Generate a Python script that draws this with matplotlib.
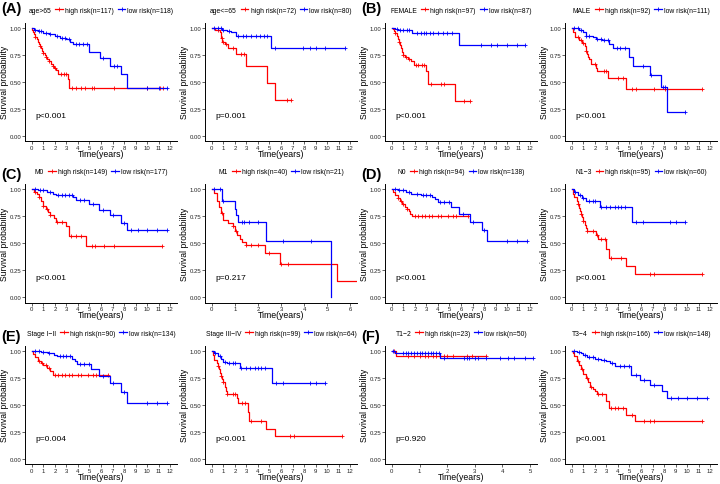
import numpy as np
import matplotlib.pyplot as plt
from matplotlib.lines import Line2D

plt.rcParams['font.family'] = ['Liberation Sans', 'DejaVu Sans']

# ---- data: event times / survival after event / censor times ----
a1_hi_t = [0.05, 0.1, 0.2, 0.3, 0.4, 0.5, 0.6, 0.7, 0.8, 0.9, 1.0, 1.1, 1.2, 1.35, 1.5, 1.65, 1.8, 1.95, 2.1, 2.3, 3.1, 3.25]
a1_hi_s = [0.98, 0.96, 0.94, 0.92, 0.90, 0.87, 0.85, 0.83, 0.81, 0.79, 0.77, 0.75, 0.73, 0.71, 0.69, 0.67, 0.65, 0.63, 0.61, 0.57, 0.53, 0.44]
a1_hi_c = [0.3, 0.7, 1.0, 1.2, 1.5, 1.8, 2.0, 2.5, 2.8, 3.0, 3.5, 3.8, 4.3, 4.6, 5.2, 5.4, 7.1, 10.0, 11.1, 11.4]
a1_lo_t = [0.15, 0.5, 1.0, 1.5, 2.0, 2.4, 3.0, 3.3, 3.6, 5.0, 5.9, 6.75, 7.7, 8.3]
a1_lo_s = [0.98, 0.97, 0.95, 0.94, 0.93, 0.91, 0.90, 0.87, 0.85, 0.78, 0.72, 0.65, 0.57, 0.44]
a1_lo_c = [0.3, 0.6, 0.8, 1.2, 1.6, 2.2, 2.6, 2.9, 3.2, 3.8, 4.1, 4.4, 4.8, 6.2, 7.1, 7.4, 10.0, 11.0, 11.7]

a2_hi_t = [0.3, 0.7, 0.8, 0.9, 1.1, 1.4, 2.05, 3.0, 4.75, 5.5]
a2_hi_s = [0.98, 0.96, 0.91, 0.87, 0.85, 0.81, 0.76, 0.65, 0.49, 0.33]
a2_hi_c = [0.5, 0.85, 1.0, 1.2, 1.8, 2.5, 2.8, 6.5, 6.9]
a2_lo_t = [0.9, 1.3, 1.7, 2.1, 5.15]
a2_lo_s = [0.98, 0.97, 0.96, 0.93, 0.81]
a2_lo_c = [0.2, 0.5, 0.8, 1.0, 1.5, 2.3, 2.7, 3.0, 3.4, 3.8, 4.2, 4.5, 4.8, 5.5, 7.9, 8.5, 9.0, 9.8, 11.6]

b1_hi_t = [0.1, 0.2, 0.3, 0.4, 0.5, 0.6, 0.7, 0.8, 0.9, 1.0, 1.1, 1.4, 1.7, 1.9, 3.0, 3.15, 5.5]
b1_hi_s = [0.99, 0.97, 0.95, 0.93, 0.90, 0.87, 0.84, 0.81, 0.78, 0.75, 0.73, 0.71, 0.69, 0.66, 0.60, 0.48, 0.32]
b1_hi_c = [0.3, 0.6, 1.0, 1.2, 1.5, 2.1, 2.3, 2.6, 2.8, 3.4, 4.3, 4.5, 6.3, 6.8]
b1_lo_t = [0.3, 0.5, 1.75, 5.8]
b1_lo_s = [0.99, 0.98, 0.95, 0.84]
b1_lo_c = [0.4, 0.7, 1.0, 1.3, 1.5, 2.2, 2.5, 2.8, 3.0, 3.3, 3.6, 4.0, 4.4, 4.8, 5.2, 7.7, 8.6, 9.1, 10.0, 10.9, 11.6]

b2_hi_t = [0.1, 0.3, 0.6, 0.9, 1.1, 1.2, 1.3, 1.4, 1.5, 1.7, 2.1, 2.2, 3.1, 4.7]
b2_hi_s = [0.96, 0.92, 0.89, 0.86, 0.83, 0.79, 0.76, 0.73, 0.71, 0.67, 0.63, 0.60, 0.54, 0.43]
b2_hi_c = [0.5, 0.8, 1.0, 1.2, 2.0, 2.8, 3.0, 4.0, 4.4, 5.2, 5.6, 7.1, 8.1, 11.3]
b2_lo_t = [0.6, 1.0, 1.2, 1.8, 2.1, 2.6, 3.2, 3.6, 5.0, 5.3, 6.75, 7.7, 8.3]
b2_lo_s = [0.98, 0.96, 0.93, 0.92, 0.90, 0.89, 0.85, 0.81, 0.73, 0.65, 0.56, 0.45, 0.22]
b2_lo_c = [0.2, 0.5, 0.8, 1.2, 1.5, 2.2, 2.5, 2.8, 3.1, 3.9, 4.2, 4.6, 6.2, 6.9, 7.9, 8.1, 9.8]

c1_hi_t = [0.2, 0.4, 0.6, 0.8, 1.0, 1.2, 1.4, 1.6, 1.9, 2.1, 3.0, 3.2, 4.7]
c1_hi_s = [0.98, 0.96, 0.93, 0.89, 0.85, 0.82, 0.79, 0.76, 0.73, 0.70, 0.66, 0.57, 0.47]
c1_hi_c = [0.3, 0.6, 1.0, 1.3, 1.6, 2.2, 2.6, 3.4, 3.8, 4.3, 5.2, 5.5, 6.3, 7.1, 11.3]
c1_lo_t = [0.5, 1.3, 1.8, 2.1, 3.6, 3.8, 5.0, 5.8, 6.8, 7.7, 8.3]
c1_lo_s = [0.99, 0.98, 0.96, 0.95, 0.93, 0.90, 0.86, 0.81, 0.76, 0.69, 0.62]
c1_lo_c = [0.3, 0.7, 1.0, 1.6, 2.3, 2.6, 2.9, 3.2, 3.5, 4.2, 4.5, 5.3, 6.2, 7.0, 8.0, 8.6, 9.2, 10.0, 10.9, 11.7]

c2_hi_t = [0.1, 0.2, 0.3, 0.4, 0.5, 0.7, 0.9, 1.0, 1.1, 1.2, 1.3, 1.5, 2.3, 2.95, 5.45]
c2_hi_s = [0.97, 0.89, 0.84, 0.78, 0.72, 0.69, 0.66, 0.61, 0.58, 0.54, 0.51, 0.48, 0.41, 0.31, 0.15]
c2_hi_c = [0.45, 0.9, 1.05, 1.5, 1.7, 2.0, 2.5, 3.0, 3.3, 6.6]
c2_lo_t = [0.45, 1.0, 1.05, 1.15, 2.35, 5.15]
c2_lo_s = [0.89, 0.82, 0.76, 0.70, 0.52, 0.0]
c2_lo_c = [0.1, 0.35, 0.5, 1.3, 1.4, 1.6, 2.0, 3.1, 4.3]

d1_hi_t = [0.1, 0.3, 0.5, 0.7, 0.9, 1.1, 1.3, 1.45, 1.6, 1.75]
d1_hi_s = [0.98, 0.95, 0.92, 0.89, 0.86, 0.84, 0.82, 0.80, 0.77, 0.75]
d1_hi_c = [0.5, 0.8, 1.0, 1.3, 2.0, 2.3, 2.6, 2.9, 3.2, 3.5, 4.0, 4.3, 4.9, 5.3, 5.6, 6.6]
d1_lo_t = [0.5, 1.2, 1.7, 2.5, 3.5, 3.7, 4.0, 5.1, 5.8, 6.8, 7.8, 8.3]
d1_lo_s = [0.99, 0.98, 0.96, 0.95, 0.93, 0.91, 0.88, 0.84, 0.77, 0.70, 0.62, 0.52]
d1_lo_c = [0.3, 0.6, 1.0, 1.5, 2.2, 2.7, 3.0, 3.3, 4.2, 4.5, 5.0, 6.2, 7.0, 8.0, 10.0, 10.9, 11.7]

d2_hi_t = [0.1, 0.2, 0.4, 0.5, 0.6, 0.7, 0.8, 0.9, 1.0, 1.1, 1.2, 1.3, 2.1, 2.3, 3.0, 3.2, 4.7, 5.5]
d2_hi_s = [0.96, 0.93, 0.89, 0.86, 0.83, 0.80, 0.77, 0.74, 0.71, 0.67, 0.64, 0.61, 0.58, 0.54, 0.45, 0.36, 0.29, 0.21]
d2_hi_c = [0.5, 0.8, 1.0, 1.3, 1.8, 2.2, 2.5, 2.9, 3.4, 4.3, 6.8, 7.1, 11.3]
d2_lo_t = [0.2, 0.5, 0.9, 1.2, 2.4, 5.2]
d2_lo_s = [0.98, 0.95, 0.92, 0.89, 0.84, 0.70]
d2_lo_c = [0.3, 0.7, 1.0, 1.5, 1.8, 2.0, 2.5, 3.0, 3.3, 3.7, 4.0, 4.3, 4.6, 5.6, 6.2, 8.5, 9.0, 9.8]

e1_hi_t = [0.1, 0.3, 0.5, 0.8, 1.0, 1.3, 1.6, 1.8]
e1_hi_s = [0.97, 0.94, 0.91, 0.89, 0.87, 0.84, 0.81, 0.78]
e1_hi_c = [0.6, 0.9, 1.2, 1.5, 2.0, 2.3, 2.6, 2.9, 3.2, 3.5, 4.0, 4.3, 4.9, 5.3, 5.6, 6.6]
e1_lo_t = [0.8, 1.4, 1.9, 2.2, 3.5, 3.7, 3.9, 5.1, 5.8, 6.8, 7.7, 8.3]
e1_lo_s = [0.99, 0.98, 0.96, 0.95, 0.93, 0.91, 0.88, 0.83, 0.77, 0.70, 0.62, 0.52]
e1_lo_c = [0.3, 0.6, 1.0, 1.5, 2.4, 2.7, 3.0, 3.3, 4.2, 4.5, 5.0, 6.2, 7.0, 8.0, 10.0, 10.9, 11.7]

e2_hi_t = [0.1, 0.2, 0.4, 0.5, 0.6, 0.7, 0.8, 0.9, 1.0, 1.1, 1.2, 1.3, 2.2, 2.3, 3.1, 3.2, 4.7, 5.5]
e2_hi_s = [0.96, 0.92, 0.89, 0.86, 0.83, 0.80, 0.77, 0.74, 0.71, 0.67, 0.63, 0.60, 0.56, 0.52, 0.43, 0.35, 0.28, 0.21]
e2_hi_c = [0.5, 0.8, 1.0, 1.3, 1.8, 2.0, 2.6, 2.9, 3.4, 4.3, 6.8, 7.1, 11.3]
e2_lo_t = [0.2, 0.5, 0.8, 1.0, 1.3, 2.4, 5.2]
e2_lo_s = [0.98, 0.95, 0.93, 0.90, 0.89, 0.84, 0.70]
e2_lo_c = [0.3, 0.7, 1.1, 1.5, 1.8, 2.0, 2.5, 3.0, 3.3, 3.7, 4.0, 4.3, 4.6, 5.6, 6.2, 8.5, 9.0, 9.8]

f1_hi_t = [0.15]
f1_hi_s = [0.955]
f1_hi_c = [0.08, 0.6, 0.8, 1.0, 1.2, 1.3, 1.5, 1.6, 1.9, 2.0, 2.2, 2.7, 2.9, 3.4]
f1_lo_t = [0.1, 1.75]
f1_lo_s = [0.985, 0.935]
f1_lo_c = [0.05, 0.4, 0.5, 0.6, 0.7, 0.8, 0.9, 1.0, 1.1, 1.2, 1.3, 1.4, 1.5, 1.6, 1.7, 1.9, 2.6, 2.7, 2.8, 3.0,
           3.1, 3.4, 3.9, 4.2, 4.4, 4.8, 5.1]

f2_hi_t = [0.1, 0.2, 0.4, 0.6, 0.8, 1.0, 1.2, 1.4, 1.6, 1.8, 2.0, 2.2, 3.0, 3.2, 4.7, 5.5]
f2_hi_s = [0.98, 0.95, 0.91, 0.87, 0.83, 0.79, 0.75, 0.71, 0.67, 0.65, 0.63, 0.60, 0.54, 0.47, 0.41, 0.35]
f2_hi_c = [0.5, 0.9, 1.3, 1.7, 2.3, 2.6, 3.4, 3.7, 4.0, 4.4, 5.2, 6.3, 6.8, 7.1, 11.3]
f2_lo_t = [0.4, 0.8, 1.0, 1.3, 2.0, 2.5, 3.0, 3.3, 3.7, 5.1, 5.9, 6.8, 7.8, 8.3]
f2_lo_s = [0.99, 0.98, 0.96, 0.94, 0.93, 0.92, 0.91, 0.89, 0.86, 0.78, 0.73, 0.68, 0.63, 0.56]
f2_lo_c = [0.2, 0.6, 1.1, 1.5, 1.8, 2.3, 2.8, 3.5, 4.2, 4.5, 5.0, 5.6, 6.3, 7.1, 8.6, 9.2, 10.0, 10.9, 11.7]

groups = ['age>65', 'age<=65', 'FEMALE', 'MALE', 'M0', 'M1', 'N0', 'N1\u22123',
          'Stage I\u2212II', 'Stage III\u2212IV', 'T1\u22122', 'T3\u22124']
n_high = [117, 72, 97, 92, 149, 40, 94, 95, 90, 99, 23, 166]
n_low = [118, 80, 87, 111, 177, 21, 138, 60, 134, 64, 50, 148]
pvals = ['p<0.001', 'p=0.001', 'p<0.001', 'p<0.001', 'p<0.001', 'p=0.217',
         'p<0.001', 'p<0.001', 'p=0.004', 'p<0.001', 'p=0.920', 'p<0.001']
xmax = [12, 12, 12, 12, 12, 6, 12, 12, 12, 12, 5, 12]
letters = ['(A)', '(B)', '(C)', '(D)', '(E)', '(F)']

high = [(a1_hi_t, a1_hi_s, a1_hi_c), (a2_hi_t, a2_hi_s, a2_hi_c), (b1_hi_t, b1_hi_s, b1_hi_c),
        (b2_hi_t, b2_hi_s, b2_hi_c), (c1_hi_t, c1_hi_s, c1_hi_c), (c2_hi_t, c2_hi_s, c2_hi_c),
        (d1_hi_t, d1_hi_s, d1_hi_c), (d2_hi_t, d2_hi_s, d2_hi_c), (e1_hi_t, e1_hi_s, e1_hi_c),
        (e2_hi_t, e2_hi_s, e2_hi_c), (f1_hi_t, f1_hi_s, f1_hi_c), (f2_hi_t, f2_hi_s, f2_hi_c)]
low = [(a1_lo_t, a1_lo_s, a1_lo_c), (a2_lo_t, a2_lo_s, a2_lo_c), (b1_lo_t, b1_lo_s, b1_lo_c),
       (b2_lo_t, b2_lo_s, b2_lo_c), (c1_lo_t, c1_lo_s, c1_lo_c), (c2_lo_t, c2_lo_s, c2_lo_c),
       (d1_lo_t, d1_lo_s, d1_lo_c), (d2_lo_t, d2_lo_s, d2_lo_c), (e1_lo_t, e1_lo_s, e1_lo_c),
       (e2_lo_t, e2_lo_s, e2_lo_c), (f1_lo_t, f1_lo_s, f1_lo_c), (f2_lo_t, f2_lo_s, f2_lo_c)]

RED = '#FF0000'
BLUE = '#0000FF'
W, H = 720, 485


def km(ax, t, s, c, color):
    tt = np.r_[0.0, t]
    ss = np.r_[1.0, s]
    end = max(tt[-1], max(c))
    x = np.r_[tt, end]
    y = np.r_[ss, ss[-1]]
    ax.step(x, y, where='post', color=color, lw=0.9)
    c = np.asarray(c)
    idx = np.searchsorted(tt, c, side='right') - 1
    ax.plot(c, ss[idx], ls='none', marker='+', ms=3, mew=0.6, color=color)


fig = plt.figure(figsize=(7.2, 4.85), dpi=100)
row_top = [23.6, 185.0, 346.6]
ax_h = 118.5
ax_w = 152

for i in range(12):
    r, col = divmod(i, 4)
    left = 25 + 180 * col
    top = row_top[r]
    ax = fig.add_axes([left / W, 1 - (top + ax_h) / H, ax_w / W, ax_h / H])
    km(ax, *high[i], RED)
    km(ax, *low[i], BLUE)
    X = xmax[i]
    ax.set_xlim(-0.05 * X, 1.05 * X)
    ax.set_ylim(-0.05, 1.05)
    ax.set_xticks(range(0, X + 1))
    ax.set_yticks([0, 0.25, 0.5, 0.75, 1.0])
    ax.set_yticklabels(['0.00', '0.25', '0.50', '0.75', '1.00'])
    for sp in ['top', 'right']:
        ax.spines[sp].set_visible(False)
    for sp in ['left', 'bottom']:
        ax.spines[sp].set_linewidth(0.7)
    ax.tick_params(labelsize=4.3, length=2, width=0.5, pad=0.8, colors='#222222')
    ax.set_xlabel('Time(years)', fontsize=6.3)
    ax.xaxis.set_label_coords(0.5, -12.5 / ax_h)
    ax.xaxis.label.set_va('center')
    ax.set_ylabel('Survival probability', fontsize=6.2)
    ax.yaxis.set_label_coords(-20.2 / ax_w, 0.5)
    ax.yaxis.label.set_va('center')
    ax.text(0.066, 0.215, pvals[i], transform=ax.transAxes, fontsize=6, va='center', ha='left')

    handles = [Line2D([], [], color=RED, lw=0.9, marker='+', ms=3, mew=0.6),
               Line2D([], [], color=BLUE, lw=0.9, marker='+', ms=3, mew=0.6)]
    labels = ['high risk(n=%d)' % n_high[i], 'low risk(n=%d)' % n_low[i]]
    leg = ax.legend(handles, labels, title=groups[i], ncol=2, loc='center',
                    bbox_to_anchor=(0.5, 1 + 12.5 / ax_h), frameon=False, fontsize=4.9,
                    title_fontsize=4.9, handlelength=1.1, handletextpad=0.3,
                    columnspacing=0.6, borderpad=0, borderaxespad=0)
    # put legend title on the left like ggplot
    box = leg.get_children()[0]
    title = box.get_children()[0]
    hpack = box.get_children()[1]
    box._children = [hpack]
    hpack._children = [title] + hpack.get_children()

    if col % 2 == 0:
        fig.text((1 + 180 * col) / W, 1 - [2, 168, 330][r] / H, letters[r * 2 + col // 2],
                 fontsize=10.5, fontweight='bold', va='top', ha='left')

fig.savefig('out.png', dpi=100)
